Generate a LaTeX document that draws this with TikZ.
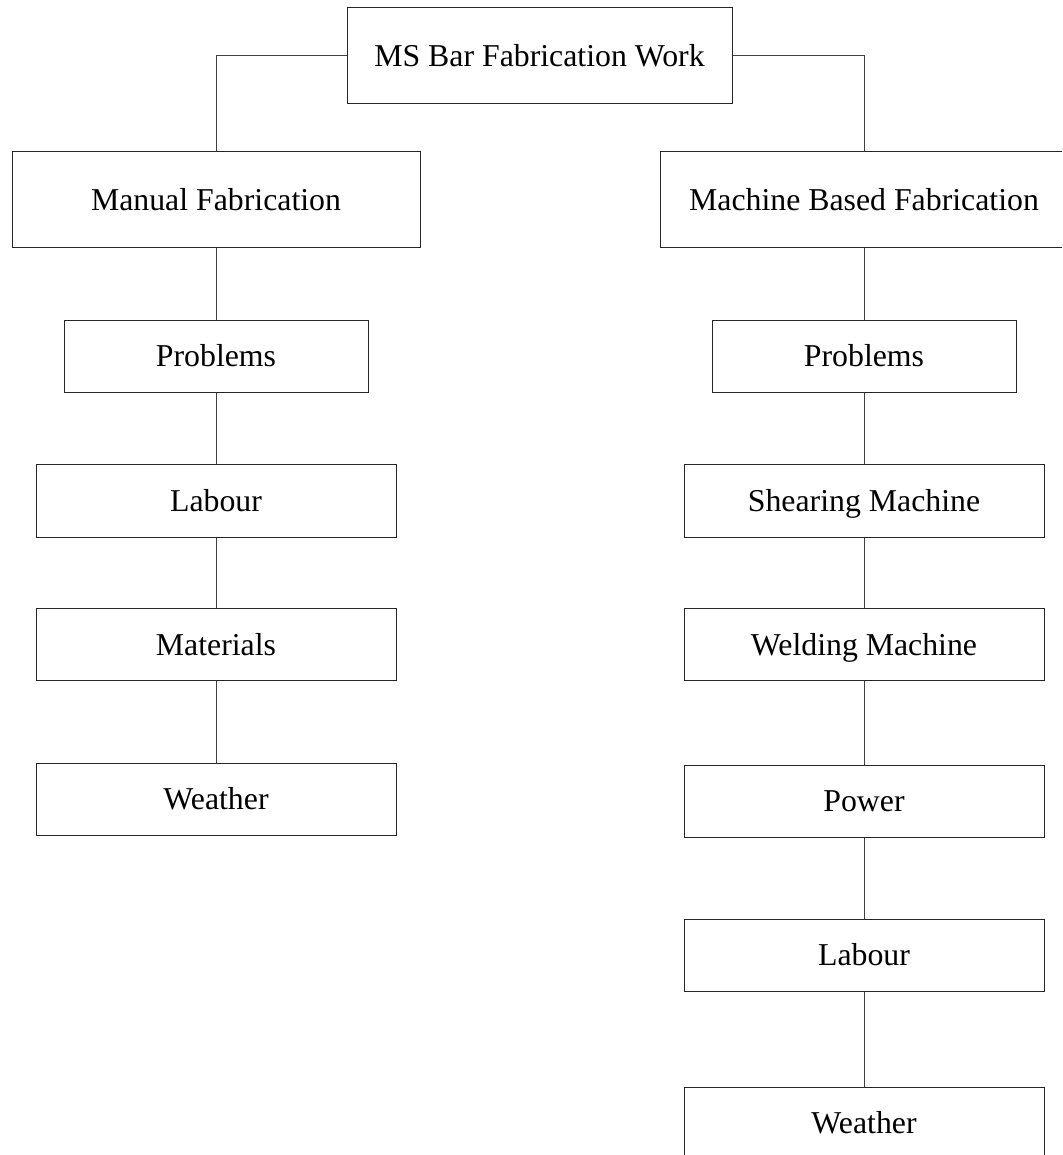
\documentclass[tikz,border=0pt]{standalone}
\usepackage{fontspec}
\setmainfont{Liberation Serif}
\begin{document}
\begin{tikzpicture}[x=1pt,y=-1pt,
  box/.style={draw=black!85, line width=1pt, inner sep=0pt, align=center,
    font=\fontsize{31.8}{38}\selectfont, text height=21pt, text depth=0pt},
  conn/.style={draw=black!75, line width=1pt}]
\useasboundingbox (0,0) rectangle (1062,1155);
\clip (0,0) rectangle (1062,1155);
% top
\node[box, minimum width=385pt, minimum height=96pt] (top) at (539.5,56) {MS Bar Fabrication Work};
% level 1
\node[box, minimum width=408pt, minimum height=96pt] (man) at (216,200) {Manual Fabrication};
\node[box, minimum width=408pt, minimum height=96pt] (mac) at (864,200) {Machine Based Fabrication};
% left column
\node[box, minimum width=304pt, minimum height=72pt] (probL) at (216,356) {Problems};
\node[box, minimum width=360pt, minimum height=73pt] (labL) at (216,500.5) {Labour};
\node[box, minimum width=360pt, minimum height=72pt] (mat) at (216,644.5) {Materials};
\node[box, minimum width=360pt, minimum height=72pt] (weaL) at (216,799) {Weather};
% right column
\node[box, minimum width=304pt, minimum height=72pt] (probR) at (864,356) {Problems};
\node[box, minimum width=360pt, minimum height=73pt] (shear) at (864,500.5) {Shearing Machine};
\node[box, minimum width=360pt, minimum height=72pt] (weld) at (864,644.5) {Welding Machine};
\node[box, minimum width=360pt, minimum height=72pt] (pow) at (864,801) {Power};
\node[box, minimum width=360pt, minimum height=72pt] (labR) at (864,955) {Labour};
\node[box, minimum width=360pt, minimum height=72pt] (weaR) at (864,1123) {Weather};
% connectors
\draw[conn] (top.west) -| (man.north);
\draw[conn] (top.east) -| (mac.north);
\draw[conn] (man.south) -- (probL.north);
\draw[conn] (probL.south) -- (labL.north);
\draw[conn] (labL.south) -- (mat.north);
\draw[conn] (mat.south) -- (weaL.north);
\draw[conn] (mac.south) -- (probR.north);
\draw[conn] (probR.south) -- (shear.north);
\draw[conn] (shear.south) -- (weld.north);
\draw[conn] (weld.south) -- (pow.north);
\draw[conn] (pow.south) -- (labR.north);
\draw[conn] (labR.south) -- (weaR.north);
\end{tikzpicture}
\end{document}
